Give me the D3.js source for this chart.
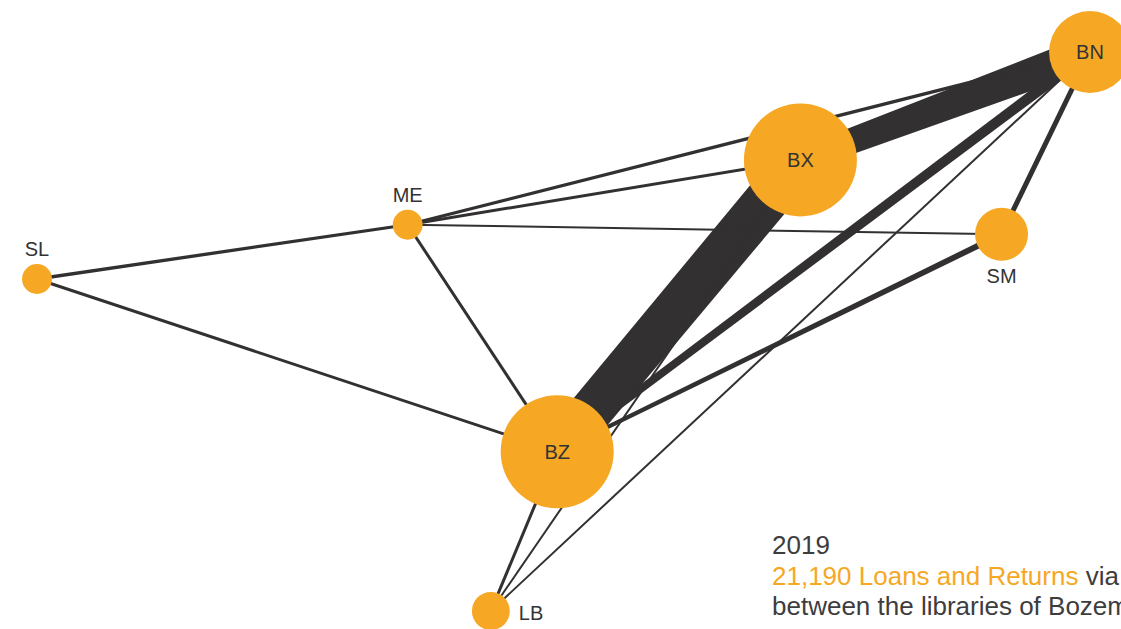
<!DOCTYPE html>
<html>
<head>
<meta charset="utf-8">
<script src="https://cdn.jsdelivr.net/npm/d3@7"></script>
<style>
  html, body { margin: 0; padding: 0; background: #fff; overflow: hidden; }
  svg { display: block; font-family: "Liberation Sans", Arial, Helvetica, sans-serif; }
</style>
</head>
<body>
<svg id="chart"></svg>
<script>
// libraries and their layout position (unit layout space 0..100)
const libraries = ['BN', 'BX', 'BZ', 'SM', 'ME', 'SL', 'LB'];
const layoutX = [100, 72.5, 49.4, 91.6, 35.2, 0, 43.1];
const layoutY = [0, 19.3, 71.5, 32.6, 30.9, 40.6, 100];
const volume = [4200, 8000, 8000, 1760, 560, 560, 900];
const labelSide = ['in', 'in', 'in', 'below', 'above', 'above', 'right'];

// links: from, to, flow leaving "from", flow arriving at "to"
const linkFrom = ['BX', 'BZ', 'BZ', 'ME', 'ME', 'ME', 'SL', 'ME', 'SL', 'SM', 'BZ', 'LB', 'LB', 'LB'];
const linkTo   = ['BN', 'BX', 'BN', 'BN', 'BX', 'SM', 'ME', 'BZ', 'BZ', 'BN', 'SM', 'BZ', 'BX', 'BN'];
const flowOut  = [2400, 4300, 700, 300, 300, 200, 350, 300, 300, 500, 400, 300, 200, 200];
const flowIn   = [3400, 4500, 1100, 350, 300, 200, 300, 300, 300, 500, 600, 300, 200, 200];

const year = '2019';
const headline = '21,190 Loans and Returns';
const line2rest = ' via courier';
const line3 = 'between the libraries of Bozeman and surroundings';

const width = 1121;
const height = 629;
const orange = '#f6a824';
const ink = '#323031';
const textGray = '#3d3d3d';

const svg = d3.select('#chart')
  .attr('width', width)
  .attr('height', height);

const x = d3.scaleLinear().domain([0, 100]).range([37, 1090]);
const y = d3.scaleLinear().domain([0, 100]).range([52, 611]);
const r = d3.scaleSqrt().domain([0, 8000]).range([0, 56.5]);
const w = d3.scaleLinear().domain([0, 4400]).range([0, 44]);

const nodes = libraries.map((id, i) => ({
  id, cx: x(layoutX[i]), cy: y(layoutY[i]), r: r(volume[i]), side: labelSide[i]
}));
const byId = new Map(nodes.map(n => [n.id, n]));

const links = linkFrom.map((f, i) => ({
  a: byId.get(f), b: byId.get(linkTo[i]), w1: w(flowOut[i]), w2: w(flowIn[i])
}));

// tapered band between two node centres
function band(d) {
  const dx = d.b.cx - d.a.cx, dy = d.b.cy - d.a.cy;
  const len = Math.hypot(dx, dy);
  const nx = -dy / len, ny = dx / len;
  const pts = [
    [d.a.cx + nx * d.w1 / 2, d.a.cy + ny * d.w1 / 2],
    [d.b.cx + nx * d.w2 / 2, d.b.cy + ny * d.w2 / 2],
    [d.b.cx - nx * d.w2 / 2, d.b.cy - ny * d.w2 / 2],
    [d.a.cx - nx * d.w1 / 2, d.a.cy - ny * d.w1 / 2]
  ];
  return d3.line()(pts) + 'Z';
}

svg.append('g')
  .selectAll('path')
  .data(links)
  .join('path')
  .attr('d', band)
  .attr('fill', ink);

svg.append('g')
  .selectAll('circle')
  .data(nodes)
  .join('circle')
  .attr('cx', d => d.cx)
  .attr('cy', d => d.cy)
  .attr('r', d => d.r)
  .attr('fill', orange);

svg.append('g')
  .selectAll('text')
  .data(nodes)
  .join('text')
  .attr('x', d => d.side === 'right' ? d.cx + d.r + 9 : d.cx)
  .attr('y', d => {
    if (d.side === 'in') return d.cy + 7;
    if (d.side === 'above') return d.cy - d.r - 8;
    if (d.side === 'below') return d.cy + d.r + 22;
    return d.cy + 9;
  })
  .attr('text-anchor', d => d.side === 'right' ? 'start' : 'middle')
  .attr('font-size', 20)
  .attr('fill', '#333')
  .text(d => d.id);

// caption, bottom right (runs off the page like the original)
const cap = svg.append('text')
  .attr('x', 772)
  .attr('y', 554)
  .attr('font-size', 26)
  .attr('fill', textGray);
cap.append('tspan').attr('x', 772).attr('y', 554).text(year);
cap.append('tspan').attr('x', 772).attr('y', 584.5).attr('fill', orange).text(headline);
cap.append('tspan').text(line2rest);
cap.append('tspan').attr('x', 772).attr('y', 615).text(line3);
</script>
</body>
</html>
